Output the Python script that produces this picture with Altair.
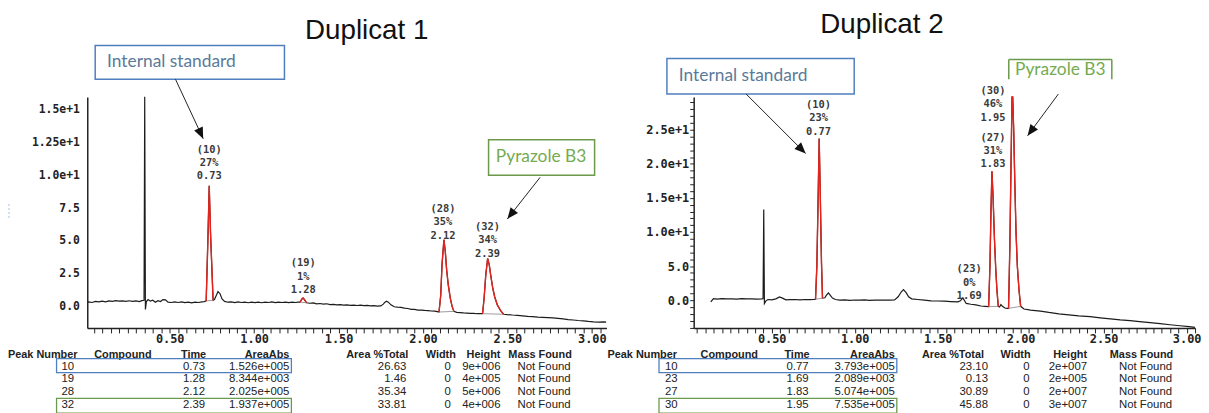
import math
import altair as alt
import pandas as pd

# ---------------- data ----------------
# Duplicat 1 chromatogram (time in min, signal)
TIME_1 = [
    0.012, 0.02, 0.04, 0.06, 0.08, 0.10, 0.12, 0.14, 0.16, 0.18,
    0.20, 0.22, 0.24, 0.26, 0.28, 0.30, 0.32, 0.335, 0.348, 0.352,
    0.356, 0.362, 0.372, 0.385, 0.40, 0.415, 0.43, 0.445, 0.46, 0.475,
    0.49, 0.51, 0.53, 0.55, 0.57, 0.59, 0.61, 0.63, 0.65, 0.67,
    0.69, 0.705, 0.716, 0.726, 0.734, 0.742, 0.757, 0.765, 0.775, 0.786,
    0.798, 0.81, 0.825, 0.845, 0.865, 0.885, 0.905, 0.925, 0.945, 0.965,
    0.985, 1.005, 1.025, 1.045, 1.065, 1.085, 1.105, 1.125, 1.145, 1.165,
    1.185, 1.205, 1.225, 1.245, 1.26, 1.272, 1.283, 1.29, 1.298, 1.31,
    1.33, 1.35, 1.37, 1.39, 1.41, 1.43, 1.45, 1.47, 1.49, 1.51,
    1.53, 1.55, 1.57, 1.59, 1.61, 1.63, 1.65, 1.67, 1.69, 1.71,
    1.73, 1.75, 1.765, 1.775, 1.784, 1.795, 1.81, 1.83, 1.85, 1.87,
    1.89, 1.91, 1.93, 1.95, 1.97, 1.99, 2.01, 2.03, 2.05, 2.07,
    2.085, 2.095, 2.105, 2.113, 2.124, 2.132, 2.14, 2.15, 2.162, 2.172,
    2.183, 2.20, 2.22, 2.24, 2.26, 2.28, 2.30, 2.32, 2.34, 2.353,
    2.362, 2.372, 2.383, 2.392, 2.402, 2.413, 2.425, 2.44, 2.458, 2.477,
    2.50, 2.53, 2.56, 2.59, 2.62, 2.65, 2.68, 2.71, 2.74, 2.77,
    2.80, 2.83, 2.86, 2.89, 2.92, 2.95, 2.98, 3.01, 3.04, 3.07,
    3.085]
SIGNAL_1 = [
    0.30, 0.33, 0.28, 0.36, 0.32, 0.38, 0.33, 0.40, 0.36, 0.42,
    0.38, 0.40, 0.36, 0.41, 0.37, 0.40, 0.35, 0.42, 0.45, 16.0,
    -0.25, 0.35, 0.50, 0.38, 0.45, 0.30, 0.42, 0.35, 0.50, 0.48,
    0.30, 0.28, 0.33, 0.28, 0.32, 0.27, 0.30, 0.25, 0.30, 0.28,
    0.33, 0.35, 0.40, 5.0, 9.2, 5.5, 0.45, 0.50, 0.80, 1.12,
    0.95, 0.55, 0.36, 0.30, 0.33, 0.27, 0.32, 0.28, 0.30, 0.26,
    0.30, 0.27, 0.31, 0.26, 0.30, 0.28, 0.32, 0.27, 0.30, 0.28,
    0.31, 0.27, 0.30, 0.28, 0.30, 0.30, 0.55, 0.62, 0.50, 0.26,
    0.22, 0.25, 0.18, 0.20, 0.15, 0.18, 0.12, 0.14, 0.10, 0.12,
    0.08, 0.10, 0.06, 0.08, 0.05, 0.07, 0.04, 0.06, 0.02, 0.04,
    0.00, 0.02, 0.15, 0.30, 0.38, 0.30, 0.10, -0.05, -0.08, -0.10,
    -0.15, -0.18, -0.25, -0.25, -0.30, -0.30, -0.33, -0.35, -0.37, -0.38,
    -0.42, -0.45, 0.80, 3.20, 5.08, 4.20, 2.80, 1.60, 0.60, 0.00,
    -0.40, -0.48, -0.50, -0.52, -0.53, -0.55, -0.56, -0.58, -0.57, -0.58,
    0.60, 2.40, 3.64, 3.20, 2.30, 1.40, 0.70, 0.10, -0.30, -0.62,
    -0.65, -0.68, -0.70, -0.74, -0.78, -0.80, -0.84, -0.86, -0.88, -0.90,
    -0.93, -0.98, -1.03, -1.06, -1.10, -1.13, -1.17, -1.20, -1.22, -1.21,
    -1.22]
PEAK_WINDOWS_1 = [(0.716, 0.757), (1.272, 1.31), (2.095, 2.183), (2.353, 2.477)]
PEAK_NUM_1 = ["10", "19", "28", "32"]
PEAK_PCT_1 = ["27%", "1%", "35%", "34%"]
PEAK_TIME_1 = [0.73, 1.28, 2.12, 2.39]
AREA_1 = ["1.526e+005", "8.344e+003", "2.025e+005", "1.937e+005"]
AREA_PCT_1 = ["26.63", "1.46", "35.34", "33.81"]
WIDTH_1 = ["0", "0", "0", "0"]
HEIGHT_1 = ["9e+006", "4e+005", "5e+006", "4e+006"]
MASS_1 = ["Not Found", "Not Found", "Not Found", "Not Found"]

# Duplicat 2 chromatogram
TIME_2 = [
    0.133, 0.149, 0.17, 0.20, 0.23, 0.26, 0.29, 0.32, 0.35, 0.38,
    0.41, 0.44, 0.448, 0.452, 0.456, 0.465, 0.478, 0.50, 0.525, 0.547,
    0.565, 0.585, 0.61, 0.64, 0.67, 0.70, 0.73, 0.755, 0.764, 0.772,
    0.779, 0.786, 0.793, 0.80, 0.806, 0.82, 0.832, 0.842, 0.852, 0.866,
    0.884, 0.91, 0.94, 0.97, 1.00, 1.03, 1.06, 1.09, 1.12, 1.15,
    1.18, 1.21, 1.24, 1.262, 1.28, 1.294, 1.31, 1.325, 1.343, 1.38,
    1.42, 1.46, 1.50, 1.54, 1.58, 1.622, 1.637, 1.652, 1.672, 1.70,
    1.73, 1.761, 1.785, 1.807, 1.815, 1.821, 1.827, 1.834, 1.842, 1.85,
    1.857, 1.865, 1.873, 1.881, 1.89, 1.905, 1.918, 1.927, 1.935, 1.942,
    1.948, 1.952, 1.958, 1.965, 1.972, 1.98, 1.99, 2.00, 2.02, 2.06,
    2.119, 2.17, 2.23, 2.29, 2.35, 2.418, 2.48, 2.54, 2.60, 2.66,
    2.716, 2.78, 2.84, 2.90, 2.96, 3.015, 3.05]
SIGNAL_2 = [
    -0.25, 0.24, 0.15, 0.22, 0.18, 0.20, 0.16, 0.22, 0.18, 0.20,
    0.15, 0.20, 0.22, 13.3, -0.48, -0.10, 0.10, 0.05, 0.20, 0.48,
    0.30, 0.05, 0.08, 0.10, 0.05, 0.10, 0.08, 0.10, 0.15, 5.0,
    14.0, 23.7, 15.0, 5.5, 0.30, 0.35, 0.80, 1.06, 0.75, 0.30,
    0.10, 0.02, 0.05, -0.02, 0.03, 0.00, 0.04, -0.02, 0.02, 0.00,
    0.03, 0.02, 0.05, 0.50, 1.20, 1.55, 1.10, 0.50, 0.20, 0.10,
    0.00, -0.10, -0.12, -0.15, -0.20, -0.24, -0.10, 0.34, -0.48, -0.60,
    -0.70, -0.85, -0.90, -0.95, 5.0, 13.0, 18.9, 15.0, 9.0, 4.5,
    1.5, -0.90, -1.00, -0.63, -0.90, -1.15, -1.20, -1.20, 8.0, 20.0,
    29.8, 29.8, 25.0, 17.0, 10.0, 5.0, 1.5, -0.90, -1.30, -1.45,
    -1.60, -1.80, -2.00, -2.15, -2.30, -2.42, -2.60, -2.75, -2.90, -3.00,
    -3.15, -3.30, -3.45, -3.60, -3.75, -3.88, -4.00]
PEAK_WINDOWS_2 = [(0.764, 0.806), (1.807, 1.865), (1.927, 2.00)]
PEAK_NUM_2 = ["10", "23", "27", "30"]
PEAK_PCT_2 = ["23%", "0%", "31%", "46%"]
PEAK_TIME_2 = [0.77, 1.69, 1.83, 1.95]
AREA_2 = ["3.793e+005", "2.089e+003", "5.074e+005", "7.535e+005"]
AREA_PCT_2 = ["23.10", "0.13", "30.89", "45.88"]
WIDTH_2 = ["0", "0", "0", "0"]
HEIGHT_2 = ["2e+007", "2e+005", "2e+007", "3e+007"]
MASS_2 = ["Not Found", "Not Found", "Not Found", "Not Found"]

TABLE_HEADERS = ["Peak Number", "Compound", "Time", "AreaAbs", "Area %Total",
                 "Width", "Height", "Mass Found"]

X_TICKS = [round(0.05 * k, 2) for k in range(1, 62)]
Y_TICKS_1 = [0, 2.5, 5, 7.5, 10, 12.5, 15]
Y_LABELS_1 = ["0.0", "2.5", "5.0", "7.5", "1.0e+1", "1.25e+1", "1.5e+1"]
Y_TICKS_2 = list(range(-4, 30))
Y_MAJOR_2 = [0, 5, 10, 15, 20, 25]
Y_LABELS_2 = ["0.0", "5.0", "1.0e+1", "1.5e+1", "2.0e+1", "2.5e+1"]

assert len(TIME_1) == len(SIGNAL_1) and len(TIME_2) == len(SIGNAL_2)

# ---------------- layout / style ----------------
MONO = "DejaVu Sans Mono"
SANS = "Liberation Sans"
NOTE_FONT = "Lato"
BLUE_BOX = "#4f7fbf"
BLUE_TXT = "#5b7a99"
GREEN_BOX = "#6a9a4a"
GREEN_TXT = "#74ab4f"
RED = "#e3231c"
ARROW_PATH = "M0,0L-0.55,-1.3L0.55,-1.3Z"

GEOM_1 = dict(t0=86.0, ppu=170.4, v0=306.0, ppv=13.2, left=88, right=612, top=95, bottom=328)
GEOM_2 = dict(t0=695.0, ppu=167.5, v0=300.0, ppv=6.88, left=700, right=1206, top=95, bottom=328)

# table layout: (offset from time zero in px, align) per column
HEAD_POS_1 = [(-78, "left"), (9, "left"), (122, "right"), (206, "right"), (326, "right"),
              (374, "right"), (419, "right"), (491, "right")]
CELL_POS_1 = [(-24, "left"), (9, "left"), (121, "right"), (206, "right"), (324, "right"),
              (369, "right"), (419, "right"), (463, "center")]
HEAD_POS_2 = [(-82, "left"), (12, "left"), (122, "right"), (208, "right"), (298, "right"),
              (345, "right"), (402, "right"), (489, "right")]
CELL_POS_2 = [(-24, "left"), (12, "left"), (121, "right"), (208, "right"), (302, "right"),
              (344, "right"), (402, "right"), (461, "center")]
HEAD_Y = 355
ROW_Y = [367, 380, 393, 406]


def label_expr(vals, labels):
    expr = "''"
    for v, l in zip(vals, labels):
        expr = f"abs(datum.value - {v}) < 0.001 ? '{l}' : ({expr})"
    return expr


X_LABEL_EXPR = ("abs(datum.value * 2 - round(datum.value * 2)) < 0.001 && datum.value > 0.1"
                " ? format(datum.value, '.2f') : ''")

X_AXIS = alt.Axis(values=X_TICKS, labelExpr=X_LABEL_EXPR, title=None, grid=False,
                  tickSize=5, tickColor="#222", tickWidth=1, domainColor="#222",
                  domainWidth=1.5, labelFont=MONO, labelFontSize=12,
                  labelFontWeight="bold", labelColor="#222", labelPadding=1,
                  labelOverlap=False, labelFlush=False)


def panel(g, time, signal, windows, peak_info, label_px, rows, head_pos, cell_pos,
          table_boxes, title, title_px, boxes, open_boxes, arrows, y_axis, extras=None,
          frame=False):
    tx = lambda px: (px - g["t0"]) / g["ppu"]
    vy = lambda py: (g["v0"] - py) / g["ppv"]
    xs = alt.Scale(domain=[tx(g["left"]), tx(g["right"])], nice=False, zero=False)
    ys = alt.Scale(domain=[vy(g["bottom"]), vy(g["top"])], nice=False, zero=False)

    def XY(**kw):
        e = dict(x=alt.X("x:Q", scale=xs, axis=X_AXIS), y=alt.Y("y:Q", scale=ys, axis=y_axis))
        e.update(kw)
        return e

    layers = []
    trace = pd.DataFrame({"x": time, "y": signal, "i": list(range(len(time)))})
    layers.append(alt.Chart(trace).mark_line(color="#1c1c1c", strokeWidth=1.2)
                  .encode(**XY(order="i:Q")))

    red_rows, base_rows = [], []
    for k, (a, b) in enumerate(windows):
        for i, (t, v) in enumerate(zip(time, signal)):
            if a - 1e-9 <= t <= b + 1e-9:
                red_rows.append({"x": t, "y": v, "i": i, "pk": k})
        base_rows.append({"x": a, "x2": b, "y": signal[time.index(a)], "y2": signal[time.index(b)]})
    layers.append(alt.Chart(pd.DataFrame(base_rows)).mark_rule(color="#9c9c9c", strokeWidth=1).encode(
        **XY(x2="x2:Q", y2="y2:Q")))
    layers.append(alt.Chart(pd.DataFrame(red_rows)).mark_line(color=RED, strokeWidth=1.4).encode(
        **XY(detail="pk:N", order="i:Q")))

    # peak labels (position = centre of first line)
    lab = pd.DataFrame([{"x": tx(px), "y": vy(py), "t": f"({n})\n{p}\n{tt:.2f}"}
                        for (n, p, tt), (px, py) in zip(peak_info, label_px)])
    layers.append(alt.Chart(lab).mark_text(font=MONO, fontSize=10.5, fontWeight="bold",
                                           color="#3a3a3a", lineBreak="\n", lineHeight=13.5,
                                           align="center", baseline="middle").encode(**XY(text="t:N")))

    # title
    layers.append(alt.Chart(pd.DataFrame([{"x": tx(title_px[0]), "y": vy(title_px[1]), "t": title}]))
                  .mark_text(font=SANS, fontSize=28, color="#111", align="center", baseline="middle")
                  .encode(**XY(text="t:N")))

    # annotation boxes
    for (txt, x1, x2, y1, y2, bc, tc, tpx, tpy, al) in boxes:
        layers.append(alt.Chart(pd.DataFrame([{"x": tx(x1), "x2": tx(x2), "y": vy(y1), "y2": vy(y2)}]))
                      .mark_rect(fill="white", stroke=bc, strokeWidth=1.5)
                      .encode(**XY(x2="x2:Q", y2="y2:Q")))
        layers.append(alt.Chart(pd.DataFrame([{"x": tx(tpx), "y": vy(tpy), "t": txt}]))
                      .mark_text(font=NOTE_FONT, fontSize=17.5, color=tc, align=al, baseline="middle")
                      .encode(**XY(text="t:N")))
    for (txt, x1, x2, y1, y2, bc, tc, tpx, tpy) in open_boxes:
        segs = pd.DataFrame([
            {"x": tx(x1), "x2": tx(x1), "y": vy(y1), "y2": vy(y2)},
            {"x": tx(x2), "x2": tx(x2), "y": vy(y1), "y2": vy(y2)},
            {"x": tx(x1), "x2": tx(x2), "y": vy(y1), "y2": vy(y1)},
        ])
        layers.append(alt.Chart(segs).mark_rule(color=bc, strokeWidth=1.5)
                      .encode(**XY(x2="x2:Q", y2="y2:Q")))
        layers.append(alt.Chart(pd.DataFrame([{"x": tx(tpx), "y": vy(tpy), "t": txt}]))
                      .mark_text(font=NOTE_FONT, fontSize=17.5, color=tc, align="center", baseline="middle")
                      .encode(**XY(text="t:N")))

    # arrows
    arr = pd.DataFrame([{"x": tx(a), "y": vy(b), "x2": tx(c), "y2": vy(d)} for a, b, c, d in arrows])
    heads = pd.DataFrame([{"x": tx(c), "y": vy(d),
                           "a": math.degrees(math.atan2(-(c - a), (d - b))) % 360}
                          for a, b, c, d in arrows])
    layers.append(alt.Chart(arr).mark_rule(color="#222", strokeWidth=1).encode(**XY(x2="x2:Q", y2="y2:Q")))
    layers.append(alt.Chart(heads).mark_point(shape=ARROW_PATH, filled=True, color="#111",
                                              size=300, opacity=1)
                  .encode(**XY(angle=alt.Angle("a:Q", scale=None))))

    # table
    cells = []
    for j, h in enumerate(TABLE_HEADERS):
        off, al = head_pos[j]
        cells.append({"x": tx(g["t0"] + off), "y": vy(HEAD_Y), "t": h, "al": al, "w": "bold"})
    for r, row in enumerate(rows):
        for j, c in enumerate(row):
            if c == "":
                continue
            off, al = cell_pos[j]
            cells.append({"x": tx(g["t0"] + off), "y": vy(ROW_Y[r]), "t": c, "al": al, "w": "normal"})
    cdf = pd.DataFrame(cells)
    for al in ["left", "right", "center"]:
        for w in ["bold", "normal"]:
            sub = cdf[(cdf.al == al) & (cdf.w == w)]
            if len(sub) == 0:
                continue
            layers.append(alt.Chart(sub).mark_text(font=SANS, fontSize=11 if w == "bold" else 11.5,
                                                   fontWeight=w, color="#222", align=al,
                                                   baseline="middle")
                          .encode(**XY(text="t:N")))
    tb = pd.DataFrame([{"x": tx(g["t0"] + a), "x2": tx(g["t0"] + b), "y": vy(c), "y2": vy(d), "c": col}
                       for a, b, c, d, col in table_boxes])
    layers.append(alt.Chart(tb).mark_rect(fillOpacity=0, strokeWidth=1.3)
                  .encode(**XY(x2="x2:Q", y2="y2:Q", stroke=alt.Stroke("c:N", scale=None))))

    if extras:
        for (x1, y1, y2, col) in extras:
            layers.append(alt.Chart(pd.DataFrame([{"x": tx(x1), "y": vy(y1), "y2": vy(y2)}]))
                          .mark_rule(color=col, strokeWidth=1, strokeDash=[2, 2])
                          .encode(**XY(y2="y2:Q")))

    if frame:
        layers.append(alt.Chart(pd.DataFrame([{"x": tx(8), "x2": tx(20), "y": vy(8), "y2": vy(20)}]))
                      .mark_rect(opacity=0).encode(**XY(x2="x2:Q", y2="y2:Q")))

    return alt.layer(*layers).properties(width=g["right"] - g["left"], height=g["bottom"] - g["top"])


y_axis_1 = alt.Axis(values=Y_TICKS_1, labelExpr=label_expr(Y_TICKS_1, Y_LABELS_1), title=None,
                    grid=False, ticks=False, domainColor="#222", domainWidth=1.5, labelFont=MONO,
                    labelFontSize=11.5, labelFontWeight="bold", labelColor="#222", labelPadding=8,
                    labelOverlap=False, labelFlush=False)
y_axis_2 = alt.Axis(values=Y_TICKS_2, labelExpr=label_expr(Y_MAJOR_2, Y_LABELS_2), title=None,
                    grid=False, tickSize=4, tickColor="#222", domainColor="#222", domainWidth=1.5,
                    labelFont=MONO, labelFontSize=12, labelFontWeight="bold", labelColor="#222",
                    labelPadding=1, labelOverlap=False, labelFlush=False)

rows_1 = [list(r) for r in zip(PEAK_NUM_1, [""] * 4, [f"{t:.2f}" for t in PEAK_TIME_1], AREA_1,
                               AREA_PCT_1, WIDTH_1, HEIGHT_1, MASS_1)]
rows_2 = [list(r) for r in zip(PEAK_NUM_2, [""] * 4, [f"{t:.2f}" for t in PEAK_TIME_2], AREA_2,
                               AREA_PCT_2, WIDTH_2, HEIGHT_2, MASS_2)]

p1 = panel(GEOM_1, TIME_1, SIGNAL_1, PEAK_WINDOWS_1,
           list(zip(PEAK_NUM_1, PEAK_PCT_1, PEAK_TIME_1)),
           [(211, 148), (306, 263), (447, 208), (492, 226)],
           rows_1, HEAD_POS_1, CELL_POS_1,
           [(-29, 208, 359, 373, BLUE_BOX), (-29, 208, 399, 414, GREEN_BOX)],
           "Duplicat 1", (370, 28),
           [("Internal standard", 96, 287, 43, 77, BLUE_BOX, BLUE_TXT, 108, 60, "left"),
            ("Pyrazole B3", 493, 600, 138, 174, GREEN_BOX, GREEN_TXT, 546, 156, "center")],
           [],
           [(177, 77, 205, 137), (545, 176, 512, 218)],
           y_axis_1, extras=[(9, 203, 218, "#9cc3e6")], frame=True)

p2 = panel(GEOM_2, TIME_2, SIGNAL_2, PEAK_WINDOWS_2,
           list(zip(PEAK_NUM_2, PEAK_PCT_2, PEAK_TIME_2)),
           [(826, 103), (978, 269), (1002, 136), (1002, 89)],
           rows_2, HEAD_POS_2, CELL_POS_2,
           [(-30, 210, 359, 373, BLUE_BOX), (-30, 210, 399, 414, GREEN_BOX)],
           "Duplicat 2", (890, 22),
           [("Internal standard", 673, 862, 56, 92, BLUE_BOX, BLUE_TXT, 685, 74, "left")],
           [("Pyrazole B3", 1018, 1122, 57, 77, GREEN_BOX, GREEN_TXT, 1070, 68)],
           [(753, 92, 813, 152), (1068, 92, 1037, 134)],
           y_axis_2)

chart = (alt.hconcat(p1, p2, spacing=88, bounds="flush")
         .properties(padding=0)
         .configure_view(stroke=None))

chart.save("out.html", embed_options={"renderer": "svg", "actions": False})
